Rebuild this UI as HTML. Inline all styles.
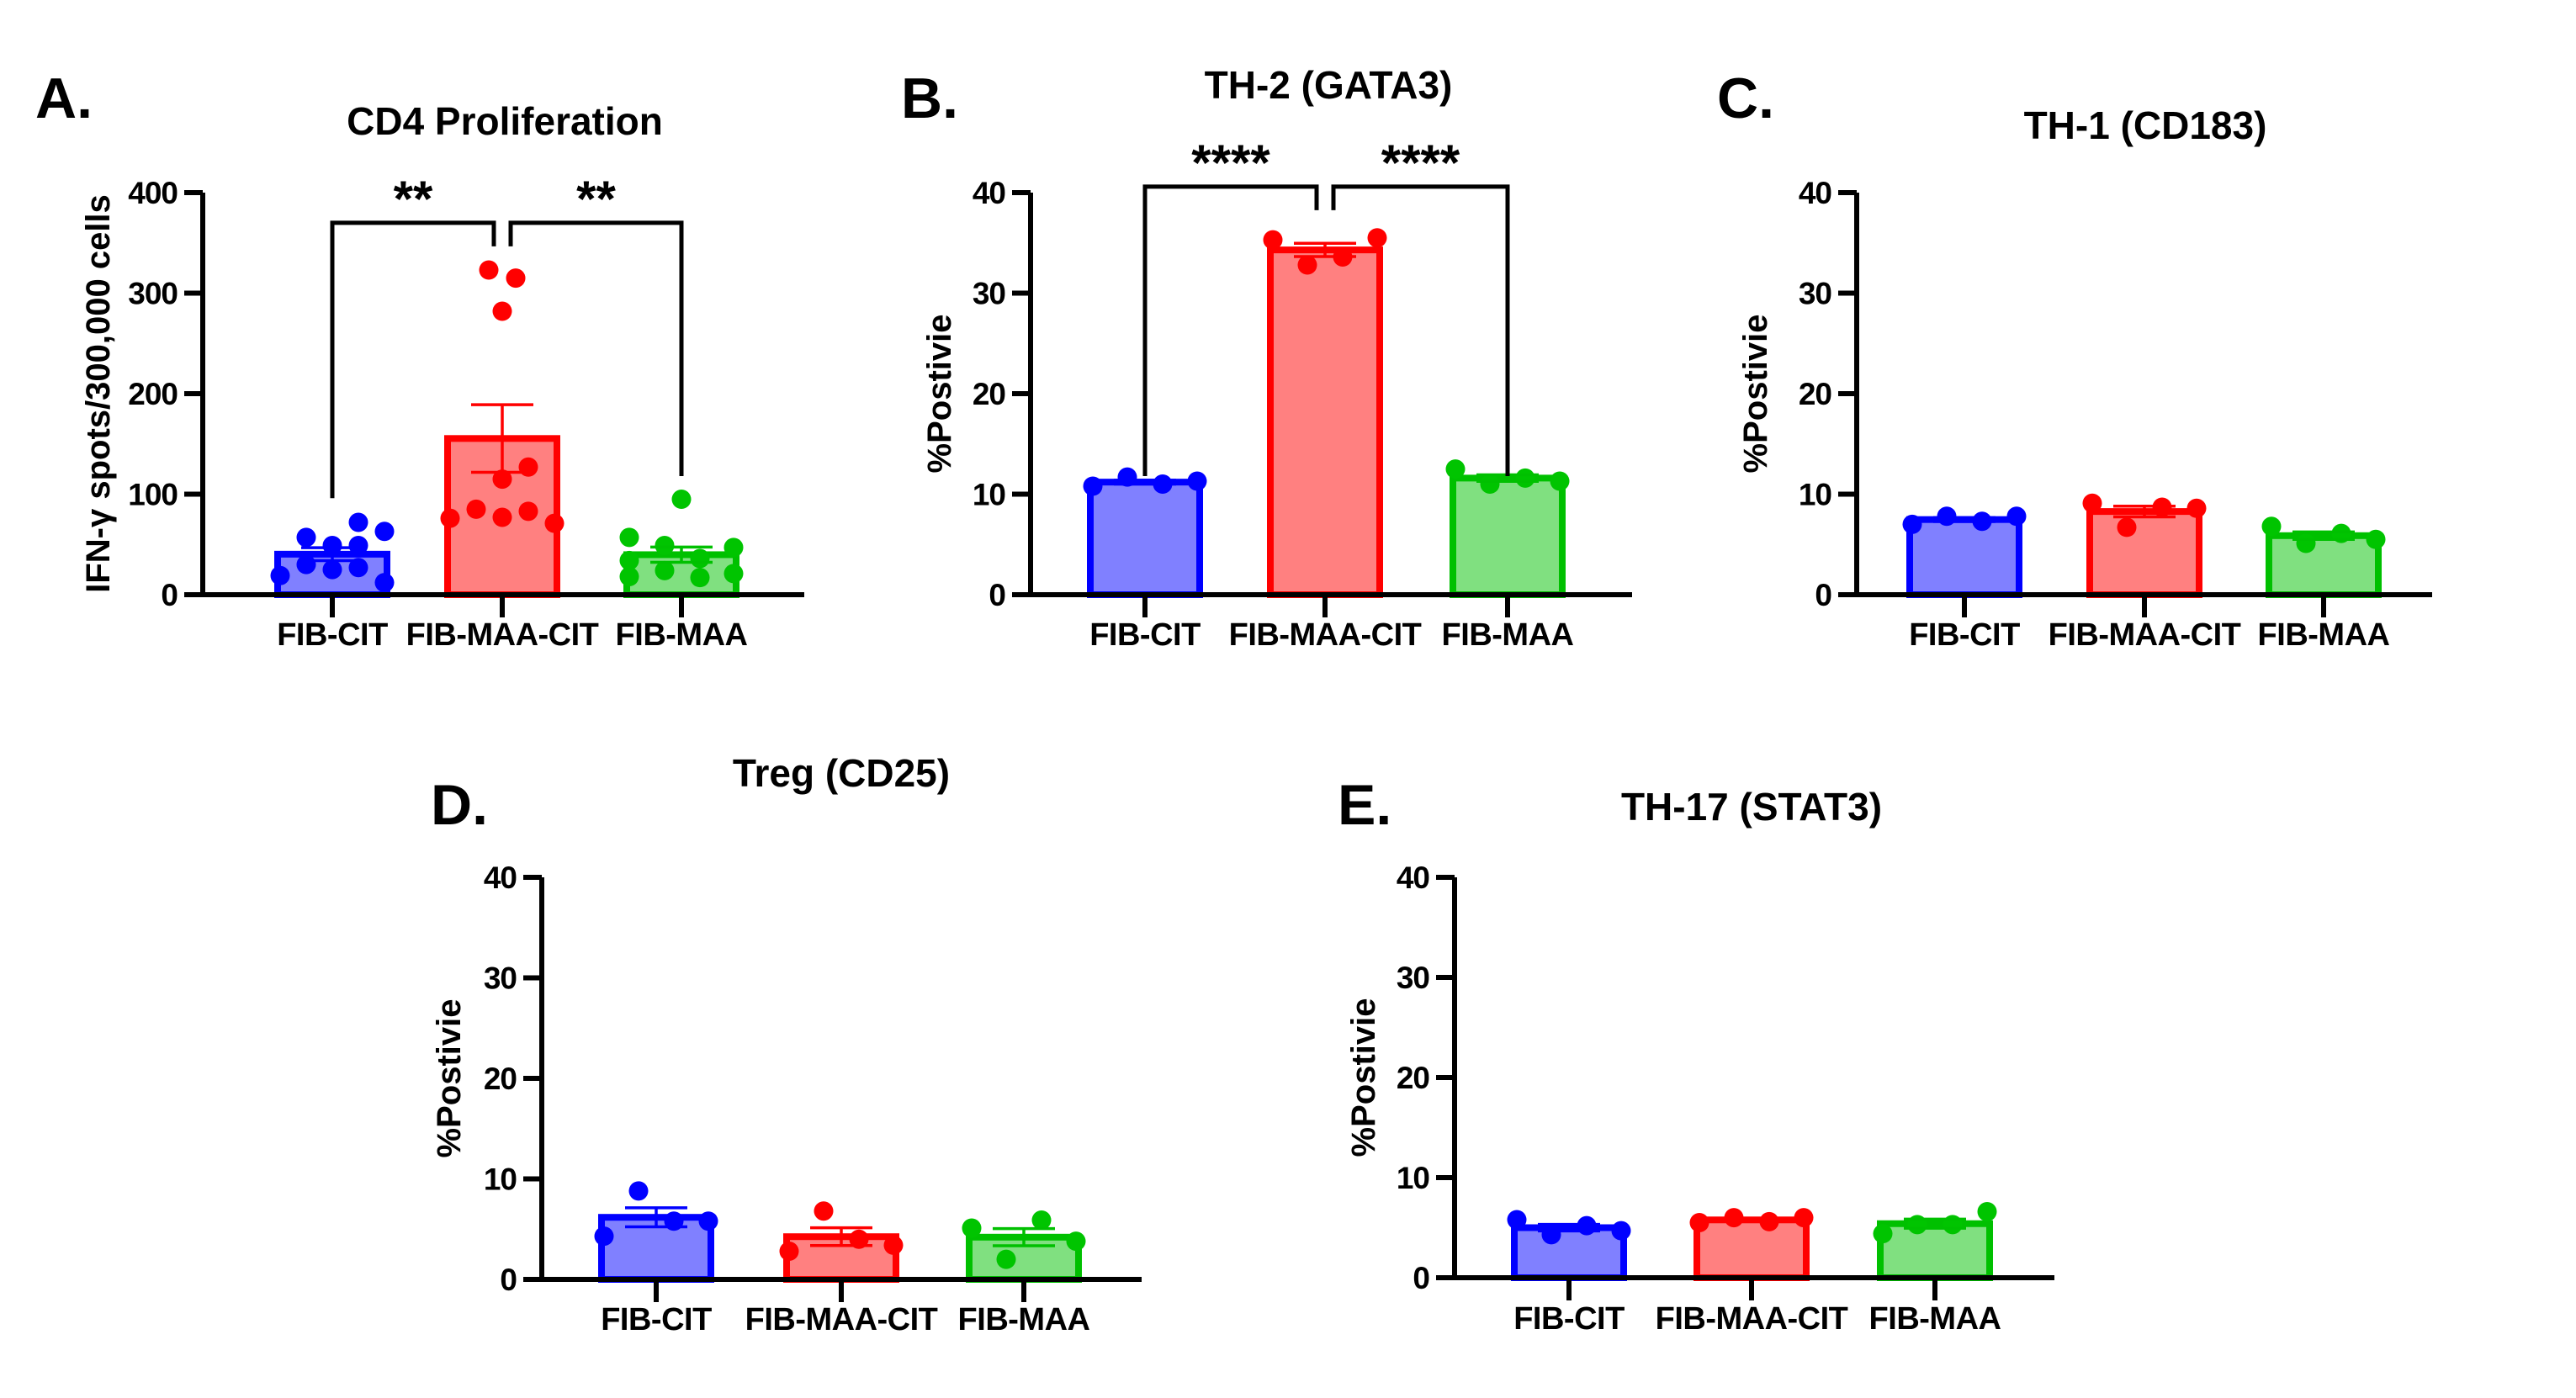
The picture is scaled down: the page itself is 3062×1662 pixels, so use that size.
<!DOCTYPE html>
<html><head><meta charset="utf-8">
<style>
html,body{margin:0;padding:0;background:#fff;}
svg{display:block;}
text{font-family:"Liberation Sans",Arial,sans-serif;font-weight:bold;fill:#000;}
</style></head>
<body>
<svg id="fig" width="3062" height="1662" viewBox="0 0 3062 1662" xmlns="http://www.w3.org/2000/svg"></svg>
<script>
// ---------- DATA ----------
const categories = ["FIB-CIT", "FIB-MAA-CIT", "FIB-MAA"];
const panelTitles = ["CD4 Proliferation", "TH-2 (GATA3)", "TH-1 (CD183)", "Treg (CD25)", "TH-17 (STAT3)"];
const panelLetters = ["A.", "B.", "C.", "D.", "E."];
const yAxisTitles = ["IFN-\u03b3 spots/300,000 cells", "%Postivie", "%Postivie", "%Postivie", "%Postivie"];
const ticksA = [0, 100, 200, 300, 400];
const ticksPct = [0, 10, 20, 30, 40];

const aCit = [19, 57, 30, 49, 25, 72, 49, 27, 63, 12];
const aMaaCit = [76, 85, 323, 115, 77, 282, 315, 127, 83, 71];
const aMaa = [57, 34, 18, 49, 24, 95, 36, 17, 47, 21];

const bCit = [10.8, 11.7, 11.0, 11.3];
const bMaaCit = [35.3, 32.8, 33.6, 35.5];
const bMaa = [12.5, 11.0, 11.6, 11.3];

const cCit = [7.0, 7.8, 7.3, 7.8];
const cMaaCit = [9.1, 6.7, 8.7, 8.6];
const cMaa = [6.8, 5.1, 6.1, 5.5];

const dCit = [4.3, 8.8, 5.8, 5.8];
const dMaaCit = [2.8, 6.8, 4.0, 3.4];
const dMaa = [5.1, 2.0, 5.9, 3.8];

const eCit = [5.8, 4.3, 5.2, 4.7];
const eMaaCit = [5.5, 6.0, 5.6, 6.0];
const eMaa = [4.4, 5.3, 5.3, 6.6];

// significance brackets: [from group, to group, bracket value, outer leg bottom value, label]
const sigA = [[0, 1, 370, 96, "**"], [2, 1, 370, 118, "**"]];
const sigB = [[0, 1, 40.6, 11.8, "****"], [2, 1, 40.6, 11.8, "****"]];

// ---------- LAYOUT ----------
const svg = document.getElementById('fig');
const NS = 'http://www.w3.org/2000/svg';
function mk(tag, attrs, parent) {
  const e = document.createElementNS(NS, tag);
  for (const k in attrs) e.setAttribute(k, attrs[k]);
  (parent || svg).appendChild(e);
  return e;
}
const fills = ["#8080ff", "#ff8080", "#80e080"];
const strokes = ["#0000ff", "#ff0000", "#00c000"];
const dotCols = ["#0000ff", "#ff0000", "#00c400"];

const jitA = [
  [-62, -31, -31, 0, 0, 31, 31, 31, 62, 62],
  [-62, -31, -16, 0, 0, 0, 16, 31, 31, 62],
  [-62, -62, -62, -20, -20, 0, 22, 22, 62, 62]
];
const jitter4 = [-62, -21, 21, 62];

const panels = [
  {series: [aCit, aMaaCit, aMaa], ticks: ticksA, max: 400, ax: 241, y0: 707, yTop: 229, xEnd: 956, centers: [395, 597, 810], titleX: 600, titleY: 160, letterX: 42, letterY: 140, ylabX: 130, catY: 767, sig: sigA, id: 'a'},
  {series: [bCit, bMaaCit, bMaa], ticks: ticksPct, max: 40, ax: 1225, y0: 707, yTop: 229, xEnd: 1940, centers: [1361, 1575, 1792], titleX: 1579, titleY: 117, letterX: 1071, letterY: 140, ylabX: 1130, catY: 767, sig: sigB, id: 'b'},
  {series: [cCit, cMaaCit, cMaa], ticks: ticksPct, max: 40, ax: 2207, y0: 707, yTop: 229, xEnd: 2891, centers: [2335, 2549, 2762], titleX: 2550, titleY: 165, letterX: 2041, letterY: 140, ylabX: 2100, catY: 767, sig: [], id: 'c'},
  {series: [dCit, dMaaCit, dMaa], ticks: ticksPct, max: 40, ax: 644, y0: 1521, yTop: 1043, xEnd: 1357, centers: [780, 1000, 1217], titleX: 1000, titleY: 935, letterX: 512, letterY: 980, ylabX: 547, catY: 1581, sig: [], id: 'd'},
  {series: [eCit, eMaaCit, eMaa], ticks: ticksPct, max: 40, ax: 1729, y0: 1519, yTop: 1043, xEnd: 2442, centers: [1865, 2082, 2300], titleX: 2082, titleY: 975, letterX: 1590, letterY: 980, ylabX: 1634, catY: 1580, sig: [], id: 'e'}
];

panels.forEach((p, pi) => {
  const g = mk('g', {});
  
  
  const yS = v => p.y0 - (v / p.max) * (p.y0 - p.yTop);

  let t = mk('text', {x: p.letterX, y: p.letterY, 'font-size': 68}, g);
  t.textContent = panelLetters[pi];
  
  

  t = mk('text', {x: p.titleX, y: p.titleY, 'font-size': 46, 'text-anchor': 'middle'}, g);
  t.textContent = panelTitles[pi];
  
  

  const ymid = (p.y0 + p.yTop) / 2;
  t = mk('text', {x: p.ylabX, y: ymid, 'font-size': 40, 'text-anchor': 'middle', transform: `rotate(-90 ${p.ylabX} ${ymid})`}, g);
  t.textContent = yAxisTitles[pi];
  
  

  // bars
  p.series.forEach((vals, si) => {
    const n = vals.length;
    const mean = vals.reduce((a, b) => a + b, 0) / n;
    const sd = Math.sqrt(vals.reduce((a, b) => a + (b - mean) ** 2, 0) / (n - 1));
    const sem = sd / Math.sqrt(n);
    const cx = p.centers[si];
    const bw = 138;
    const r = mk('rect', {x: cx - bw / 2 + 4, y: yS(mean), width: bw - 8, height: p.y0 - yS(mean), fill: fills[si], stroke: strokes[si], 'stroke-width': 8}, g);
    
    
    const jit = n === 10 ? jitA[si] : jitter4;
    vals.forEach((v, k) => {
      const c = mk('circle', {cx: cx + jit[k], cy: yS(v), r: 11.5, fill: dotCols[si]}, g);
      
      
    });
    const eb = mk('path', {d: `M${cx} ${yS(mean - sem)}V${yS(mean + sem)}M${cx - 37} ${yS(mean + sem)}H${cx + 37}M${cx - 37} ${yS(mean - sem)}H${cx + 37}`, stroke: strokes[si], 'stroke-width': 3.5, fill: 'none'}, g);
    
    
  });

  // axes
  const ax = mk('path', {d: `M${p.ax} ${p.yTop}V${p.y0}H${p.xEnd}`, stroke: '#000', 'stroke-width': 6, fill: 'none'}, g);
  
  
  p.ticks.forEach(tv => {
    const y = yS(tv);
    mk('line', {x1: p.ax - 22, x2: p.ax, y1: y, y2: y, stroke: '#000', 'stroke-width': 6}, g);
    const tl = mk('text', {x: p.ax - 30, y: y + 13, 'font-size': 37, 'text-anchor': 'end', 'letter-spacing': -1}, g);
    tl.textContent = tv;
    
    
  });
  categories.forEach((c, ci) => {
    const x = p.centers[ci];
    mk('line', {x1: x, x2: x, y1: p.y0, y2: p.y0 + 27, stroke: '#000', 'stroke-width': 6}, g);
    const cl = mk('text', {x: x, y: p.catY, 'font-size': 38, 'text-anchor': 'middle', 'letter-spacing': -0.5}, g);
    cl.textContent = c;
    
    
  });

  // significance
  p.sig.forEach(s => {
    const [from, to, bv, legV, lab] = s;
    const xo = p.centers[from];
    const xi = p.centers[to] + (from < to ? -10 : 10);
    const yb = yS(bv);
    const innerBot = yb + 28;
    const pth = mk('path', {d: `M${xo} ${yS(legV)}V${yb}H${xi}V${innerBot}`, stroke: '#000', 'stroke-width': 5, fill: 'none'}, g);
    
    
    const st = mk('text', {x: (xo + xi) / 2, y: yb - 8, 'font-size': 60, 'text-anchor': 'middle'}, g);
    st.textContent = lab;
    
    
  });
});
</script>
</body></html>
